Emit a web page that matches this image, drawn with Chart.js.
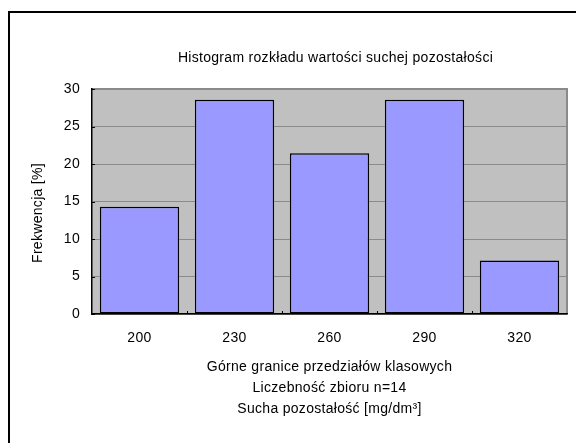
<!DOCTYPE html>
<html>
<head>
<meta charset="utf-8">
<script src="https://cdn.jsdelivr.net/npm/chart.js@4"></script>
<style>
  html, body { margin: 0; padding: 0; background: #fff; }
  #histChart { display: block; }
</style>
</head>
<body>
<canvas id="histChart" width="576" height="443"></canvas>
<script>
// upper class limits and share of samples in each class [%], n = 14
const classLabels = ['200', '230', '260', '290', '320'];
const frequencyPct = [14.29, 28.57, 21.43, 28.57, 7.14];
const yTicks = [0, 5, 10, 15, 20, 25, 30];

const chartTitle = 'Histogram rozkładu wartości suchej pozostałości';
const yTitle = 'Frekwencja [%]';
const xTitle = ['Górne granice przedziałów klasowych', 'Liczebność zbioru n=14', 'Sucha pozostałość [mg/dm³]'];

const FONT = "'Liberation Sans', Arial, sans-serif";
const FSIZE = 14;

// grey plot area, outer frame, inward tick marks and the free-standing titles
const decorPlugin = {
    id: 'decor',
    beforeDraw: function(chart) {
        var ctx = chart.ctx, a = chart.chartArea;
        // slightly wider text spacing for everything drawn afterwards
        ctx.letterSpacing = '0.3px';
        ctx.save();
        ctx.fillStyle = '#fff';
        ctx.fillRect(0, 0, chart.width, chart.height);
        ctx.strokeStyle = '#000';
        ctx.lineWidth = 2;
        ctx.strokeRect(9, 12, 700, 600);
        ctx.fillStyle = '#c0c0c0';
        ctx.fillRect(a.left, a.top, a.right - a.left, a.bottom - a.top);
        ctx.strokeStyle = '#8a8a8a';
        ctx.lineWidth = 2;
        ctx.beginPath();
        ctx.moveTo(a.left, a.top);
        ctx.lineTo(a.right, a.top);
        ctx.lineTo(a.right, a.bottom);
        ctx.stroke();
        ctx.restore();
    },
    afterDatasetsDraw: function(chart) {
        var ctx = chart.ctx, a = chart.chartArea;
        var ys = chart.scales.y;
        ctx.save();
        ctx.strokeStyle = '#000';
        ctx.lineWidth = 1;
        // small tick marks at class boundaries
        var step = (a.right - a.left) / classLabels.length;
        for (var i = 1; i < classLabels.length; i++) {
            var px = Math.round(a.left + i * step) + 0.5;
            ctx.beginPath();
            ctx.moveTo(px, a.bottom);
            ctx.lineTo(px, a.bottom - 3);
            ctx.stroke();
        }
        yTicks.forEach(function(v) {
            var py = Math.round(ys.getPixelForValue(v)) + 0.5;
            ctx.beginPath();
            ctx.moveTo(a.left, py);
            ctx.lineTo(a.left + 3, py);
            ctx.stroke();
        });
        // chart title
        ctx.fillStyle = '#000';
        ctx.font = FSIZE + 'px ' + FONT;
        ctx.textAlign = 'center';
        ctx.textBaseline = 'middle';
        ctx.fillText(chartTitle, (a.left + a.right) / 2 + 6, 58);
        // y axis title
        ctx.translate(38, 213);
        ctx.rotate(-Math.PI / 2);
        ctx.fillText(yTitle, 0, 0);
        ctx.restore();
    }
};

const ctx = document.getElementById('histChart').getContext('2d');
const histChart = new Chart(ctx, {
    type: 'bar',
    data: {
        labels: classLabels,
        datasets: [{
            data: frequencyPct,
            backgroundColor: '#9999ff',
            borderColor: '#000',
            borderWidth: 1.5,
            borderSkipped: false,
            categoryPercentage: 1.0,
            barPercentage: 0.835
        }]
    },
    options: {
        responsive: false,
        animation: false,
        layout: { padding: { top: 89, right: 9, left: 0, bottom: 0 } },
        plugins: {
            legend: { display: false },
            title: { display: false },
            tooltip: { enabled: false }
        },
        scales: {
            x: {
                grid: { display: false },
                border: { color: '#000', width: 1.5 },
                ticks: { color: '#000', font: { family: FONT, size: FSIZE }, padding: 8, maxRotation: 0 },
                title: {
                    display: true,
                    text: xTitle,
                    color: '#000',
                    font: { family: FONT, size: FSIZE, lineHeight: 1.5 },
                    padding: { top: 0, bottom: 23 }
                },
                afterFit: function(scale) { scale.height = 129; }
            },
            y: {
                min: 0,
                max: 30,
                grid: { color: '#8a8a8a', lineWidth: 1, drawTicks: false },
                border: { color: '#000', width: 1.5 },
                ticks: {
                    stepSize: 5,
                    color: '#000',
                    font: { family: FONT, size: FSIZE },
                    padding: 12
                },
                afterFit: function(scale) { scale.width = 92; }
            }
        }
    },
    plugins: [decorPlugin]
});
</script>
</body>
</html>
